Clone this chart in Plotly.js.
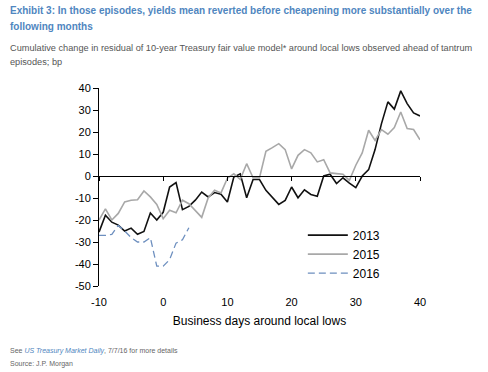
<!DOCTYPE html>
<html>
<head>
<meta charset="utf-8">
<script src="https://cdn.plot.ly/plotly-3.0.1.min.js"></script>
<style>html,body{margin:0;padding:0;background:#fff;}#chart{width:488px;height:372px;}</style>
</head>
<body>
<div id="chart"></div>
<script>
// Business days around local lows
const days = [];
for (let d = -10; d <= 40; d++) days.push(d);
const days2016 = [-10,-9,-8,-7,-6,-5,-4,-3,-2,-1,0,1,2,3,4];

// Cumulative change in residual, bp
const y2013 = [-25.5,-17.8,-21,-22.3,-25,-23.7,-26.5,-25.2,-16.8,-20,
  -16.5,-5,-3,-15.3,-13.8,-11,-7.3,-9.5,-7.5,-8.3,
  -11.8,-0.5,1,-9.9,-1.6,-1.6,-6.5,-9.9,-12.9,-11.1,
  -5,-9.9,-6.3,-8.4,-9.2,0,0.8,-3.4,-0.8,-3.2,
  -5.3,0,2.9,12,23.8,33.7,30.4,38.7,32.9,28.7,27.3];
const y2015 = [-20,-14.9,-20,-17,-11.8,-11,-10.8,-6.8,-9.5,-12.9,
  -19.4,-15.6,-16.7,-11,-12.6,-15.6,-18.8,-10,-6.5,-7.7,
  -1,1,-1.5,5.6,-0.8,-0.8,11.2,12.9,14.7,12,
  3.2,9.4,12,10.5,6.4,7.4,1.4,1.1,0.8,-2,
  4.9,10.5,20.8,16.2,21.1,19,22,29.1,21.6,21.1,16.5];
const y2016 = [-27,-27,-26.5,-22.5,-25,-28,-30,-30,-28,-41,-41,-38,-30.5,-29,-23.5];

const seriesNames = ['2013','2015','2016'];
const xTicks = [-10,0,10,20,30,40];
const xTickLabels = ['-10','0','10','20','30','40'];
const yTicks = [-50,-40,-30,-20,-10,0,10,20,30,40];
const yTickLabels = ['-50','-40','-30','-20','-10','0','10','20','30','40'];

const traces = [
  {x: days, y: y2013, name: seriesNames[0], type: 'scatter', mode: 'lines',
   line: {color: '#111111', width: 1.6}},
  {x: days, y: y2015, name: seriesNames[1], type: 'scatter', mode: 'lines',
   line: {color: '#a8a8a8', width: 1.6}},
  {x: days2016, y: y2016, name: seriesNames[2], type: 'scatter', mode: 'lines',
   line: {color: '#6d8fbf', width: 1.3, dash: '7px,4px'}},
  {x: [], y: [], xaxis: 'x2', showlegend: false, hoverinfo: 'skip', type: 'scatter', mode: 'lines'}
];

const FONT = 'Liberation Sans, Arial, sans-serif';
const lx = -0.2835;
const layout = {
  width: 488, height: 372,
  margin: {l: 99, r: 68, t: 88, b: 86},
  paper_bgcolor: '#ffffff', plot_bgcolor: '#ffffff',
  font: {family: FONT, size: 11, color: '#000'},
  showlegend: true,
  legend: {x: 0.635, y: 0.33, xanchor: 'left', yanchor: 'top', bgcolor: 'rgba(0,0,0,0)',
    font: {size: 12, color: '#000', family: FONT}, itemwidth: 40, tracegroupgap: 0},
  xaxis: {range: [-10, 40], tickvals: xTicks, ticktext: xTickLabels, showgrid: false, zeroline: false, showline: false,
    ticks: 'outside', ticklen: 6, tickcolor: 'rgba(0,0,0,0)', tickfont: {size: 11},
    title: {text: 'Business days around local lows', font: {size: 12, color: '#000'}, standoff: 9}},
  xaxis2: {range: [-10, 40], overlaying: 'x', anchor: 'free', position: 50/90, tickvals: xTicks,
    showgrid: false, zeroline: false, showline: true, linecolor: '#000', linewidth: 1,
    ticks: 'outside', ticklen: 4, tickcolor: '#000', showticklabels: false},
  yaxis: {range: [-50, 40], tickvals: yTicks, ticktext: yTickLabels, showgrid: false, zeroline: false, showline: true,
    linecolor: '#000', linewidth: 1, ticks: 'outside', ticklen: 5, tickcolor: '#000',
    tickfont: {size: 11}},
  annotations: [
    {text: '<b>Exhibit 3: In those episodes, yields mean reverted before cheapening more substantially over the</b>',
     xref: 'paper', yref: 'paper', x: lx, y: 1.389, xanchor: 'left', yanchor: 'middle', showarrow: false,
     font: {size: 10, color: '#4f86c0', family: FONT}},
    {text: '<b>following months</b>',
     xref: 'paper', yref: 'paper', x: lx, y: 1.313, xanchor: 'left', yanchor: 'middle', showarrow: false,
     font: {size: 10, color: '#4f86c0', family: FONT}},
    {text: 'Cumulative change in residual of 10-year Treasury fair value model* around local lows observed ahead of tantrum',
     xref: 'paper', yref: 'paper', x: lx, y: 1.202, xanchor: 'left', yanchor: 'middle', showarrow: false,
     font: {size: 9.2, color: '#555', family: FONT}},
    {text: 'episodes; bp',
     xref: 'paper', yref: 'paper', x: lx, y: 1.131, xanchor: 'left', yanchor: 'middle', showarrow: false,
     font: {size: 9.2, color: '#555', family: FONT}},
    {text: 'See <i><span style="color:#4f86c0">US Treasury Market Daily</span></i>, 7/7/16 for more details',
     xref: 'paper', yref: 'paper', x: lx, y: -0.328, xanchor: 'left', yanchor: 'middle', showarrow: false,
     font: {size: 7, color: '#666', family: FONT}},
    {text: 'Source: J.P. Morgan',
     xref: 'paper', yref: 'paper', x: lx, y: -0.394, xanchor: 'left', yanchor: 'middle', showarrow: false,
     font: {size: 7, color: '#666', family: FONT}}
  ]
};

Plotly.newPlot('chart', traces, layout, {displayModeBar: false, staticPlot: true});
</script>
</body>
</html>
